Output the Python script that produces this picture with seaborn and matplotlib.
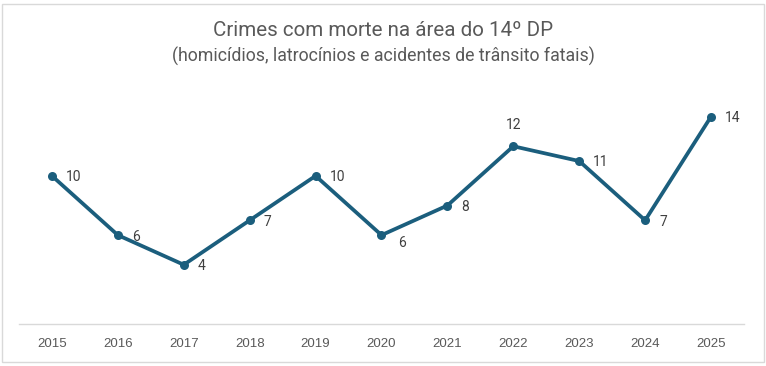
import matplotlib
matplotlib.use("Agg")
import matplotlib.pyplot as plt
import seaborn as sns
import pandas as pd
from matplotlib.patches import Rectangle

years = ["2015", "2016", "2017", "2018", "2019", "2020", "2021", "2022", "2023", "2024", "2025"]
crimes = [10, 6, 4, 7, 10, 6, 8, 12, 11, 7, 14]

title = "Crimes com morte na área do 14º DP"
subtitle = "(homicídios, latrocínios e acidentes de trânsito fatais)"

line_color = "#1B5E7D"
text_color = "#595959"

df = pd.DataFrame({"ano": years, "crimes": crimes})

sns.set_theme(style="white")
plt.rcParams["font.family"] = ["Roboto", "DejaVu Sans"]

fig = plt.figure(figsize=(7.66, 3.66), dpi=100)
ax = fig.add_axes([19 / 766, 1 - 324 / 366, 725 / 766, (324 - 87) / 366])

x = list(range(len(years)))
sns.lineplot(x=x, y=df["crimes"], ax=ax, color=line_color, linewidth=2.7,
             marker="o", markersize=6.5, markeredgewidth=0)

# label offsets (points) – mostly to the right, 2020 a bit lower, 2022 above
offsets = {5: (12, -6), 7: (0, 15)}
for xi, v in zip(x, crimes):
    dx, dy = offsets.get(xi, (10, -1))
    ax.annotate(str(v), (xi, v), xytext=(dx, dy), textcoords="offset points",
                ha="left" if dx else "center", va="center", fontsize=10, color="#404040")

ax.set_xlim(-0.5, len(years) - 0.5)
ax.set_ylim(0, 16)
ax.set_xticks(x)
ax.set_xticklabels(years, fontsize=9.5, color=text_color,
                   family=["Liberation Sans", "DejaVu Sans"])
ax.set_yticks([])
ax.tick_params(axis="x", length=0, pad=10)
ax.set_xlabel("")
ax.set_ylabel("")
for side in ["top", "left", "right"]:
    ax.spines[side].set_visible(False)
ax.spines["bottom"].set_color("#D9D9D9")
ax.spines["bottom"].set_linewidth(1)

fig.text(0.5, 1 - 30 / 366, title, ha="center", va="center", fontsize=14.8, color=text_color)
fig.text(0.5, 1 - 56 / 366, subtitle, ha="center", va="center", fontsize=12.8, color=text_color)

fig.patches.append(Rectangle((2 / 766, 4 / 366), 762 / 766, 358 / 366, transform=fig.transFigure,
                             fill=False, edgecolor="#D9D9D9", linewidth=1))

fig.savefig("out.png", dpi=100, facecolor="white")
